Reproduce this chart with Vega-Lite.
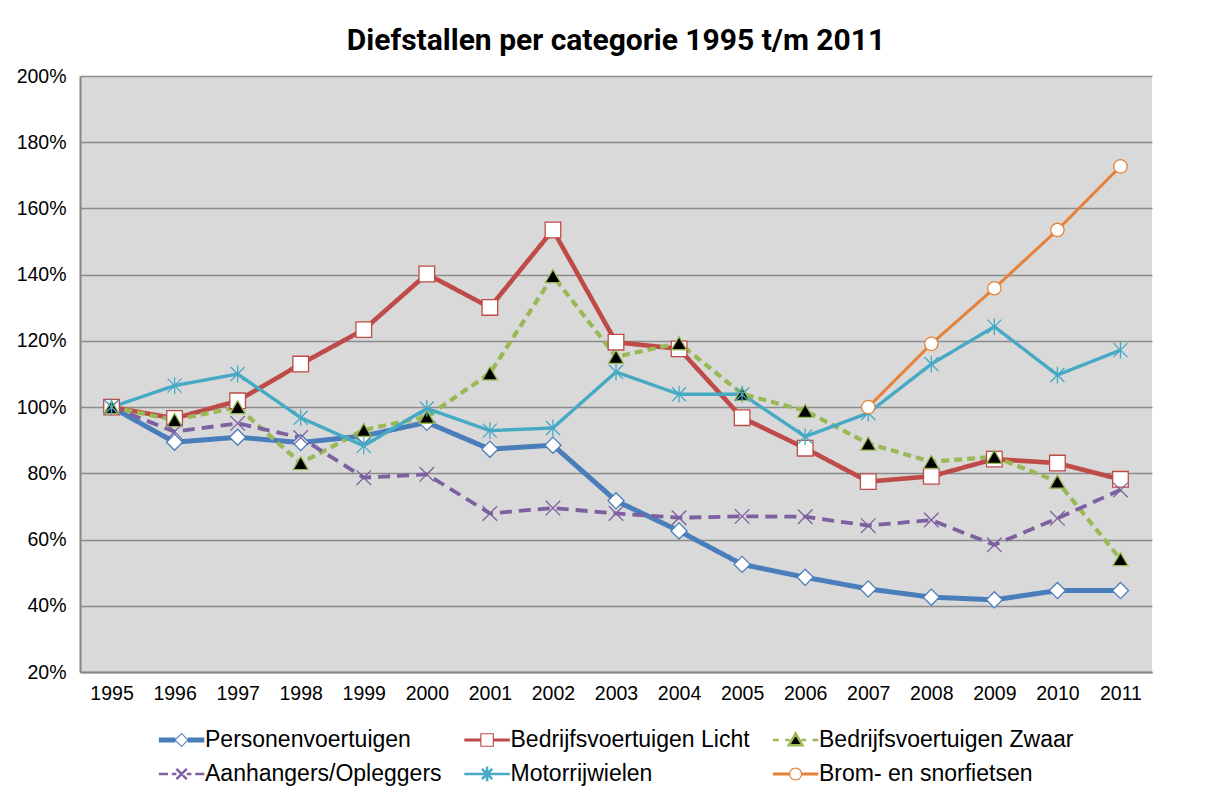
{
  "$schema": "https://vega.github.io/schema/vega-lite/v6.json",
  "width": 1072,
  "height": 596,
  "autosize": {"type": "none"},
  "padding": {"left": 80, "top": 76, "right": 53, "bottom": 119},
  "background": "white",
  "title": {
    "text": "Diefstallen per categorie 1995 t/m 2011",
    "anchor": "middle",
    "frame": "group",
    "baseline": "alphabetic",
    "offset": -14,
    "font": "Roboto",
    "fontSize": 30,
    "fontWeight": "bold",
    "color": "black"
  },
  "config": {
    "view": {"fill": "#D9D9D9", "stroke": null},
    "axis": {
      "labelFont": "Liberation Sans",
      "labelFontSize": 19.5,
      "labelColor": "black",
      "ticks": false,
      "domainColor": "#868686",
      "domainWidth": 2,
      "title": null
    },
    "legend": {
      "labelFont": "Liberation Sans",
      "labelFontSize": 23,
      "labelColor": "black",
      "labelLimit": 400
    }
  },
  "resolve": {"scale": {"strokeWidth": "independent"}},
  "data": {
    "values": [
      {"yr": 1995, "s": "Personenvoertuigen", "k": "P", "v": 100},
      {"yr": 1996, "s": "Personenvoertuigen", "k": "P", "v": 89.4},
      {"yr": 1997, "s": "Personenvoertuigen", "k": "P", "v": 90.9},
      {"yr": 1998, "s": "Personenvoertuigen", "k": "P", "v": 89.3},
      {"yr": 1999, "s": "Personenvoertuigen", "k": "P", "v": 91.3},
      {"yr": 2000, "s": "Personenvoertuigen", "k": "P", "v": 95.4},
      {"yr": 2001, "s": "Personenvoertuigen", "k": "P", "v": 87.3},
      {"yr": 2002, "s": "Personenvoertuigen", "k": "P", "v": 88.5},
      {"yr": 2003, "s": "Personenvoertuigen", "k": "P", "v": 71.7},
      {"yr": 2004, "s": "Personenvoertuigen", "k": "P", "v": 62.6},
      {"yr": 2005, "s": "Personenvoertuigen", "k": "P", "v": 52.5},
      {"yr": 2006, "s": "Personenvoertuigen", "k": "P", "v": 48.6},
      {"yr": 2007, "s": "Personenvoertuigen", "k": "P", "v": 45.1},
      {"yr": 2008, "s": "Personenvoertuigen", "k": "P", "v": 42.6},
      {"yr": 2009, "s": "Personenvoertuigen", "k": "P", "v": 41.8},
      {"yr": 2010, "s": "Personenvoertuigen", "k": "P", "v": 44.6},
      {"yr": 2011, "s": "Personenvoertuigen", "k": "P", "v": 44.6},
      {"yr": 1995, "s": "Bedrijfsvoertuigen Licht", "k": "L", "v": 100},
      {"yr": 1996, "s": "Bedrijfsvoertuigen Licht", "k": "L", "v": 96.6},
      {"yr": 1997, "s": "Bedrijfsvoertuigen Licht", "k": "L", "v": 101.9},
      {"yr": 1998, "s": "Bedrijfsvoertuigen Licht", "k": "L", "v": 113.0},
      {"yr": 1999, "s": "Bedrijfsvoertuigen Licht", "k": "L", "v": 123.4},
      {"yr": 2000, "s": "Bedrijfsvoertuigen Licht", "k": "L", "v": 140.2},
      {"yr": 2001, "s": "Bedrijfsvoertuigen Licht", "k": "L", "v": 130.1},
      {"yr": 2002, "s": "Bedrijfsvoertuigen Licht", "k": "L", "v": 153.5},
      {"yr": 2003, "s": "Bedrijfsvoertuigen Licht", "k": "L", "v": 119.6},
      {"yr": 2004, "s": "Bedrijfsvoertuigen Licht", "k": "L", "v": 117.6},
      {"yr": 2005, "s": "Bedrijfsvoertuigen Licht", "k": "L", "v": 96.8},
      {"yr": 2006, "s": "Bedrijfsvoertuigen Licht", "k": "L", "v": 87.6},
      {"yr": 2007, "s": "Bedrijfsvoertuigen Licht", "k": "L", "v": 77.5},
      {"yr": 2008, "s": "Bedrijfsvoertuigen Licht", "k": "L", "v": 79.1},
      {"yr": 2009, "s": "Bedrijfsvoertuigen Licht", "k": "L", "v": 84.3},
      {"yr": 2010, "s": "Bedrijfsvoertuigen Licht", "k": "L", "v": 83.1},
      {"yr": 2011, "s": "Bedrijfsvoertuigen Licht", "k": "L", "v": 78.2},
      {"yr": 1995, "s": "Bedrijfsvoertuigen Zwaar", "k": "Z", "v": 100},
      {"yr": 1996, "s": "Bedrijfsvoertuigen Zwaar", "k": "Z", "v": 96.1},
      {"yr": 1997, "s": "Bedrijfsvoertuigen Zwaar", "k": "Z", "v": 100},
      {"yr": 1998, "s": "Bedrijfsvoertuigen Zwaar", "k": "Z", "v": 83.1},
      {"yr": 1999, "s": "Bedrijfsvoertuigen Zwaar", "k": "Z", "v": 93.1},
      {"yr": 2000, "s": "Bedrijfsvoertuigen Zwaar", "k": "Z", "v": 97.1},
      {"yr": 2001, "s": "Bedrijfsvoertuigen Zwaar", "k": "Z", "v": 110.2},
      {"yr": 2002, "s": "Bedrijfsvoertuigen Zwaar", "k": "Z", "v": 139.6},
      {"yr": 2003, "s": "Bedrijfsvoertuigen Zwaar", "k": "Z", "v": 115.2},
      {"yr": 2004, "s": "Bedrijfsvoertuigen Zwaar", "k": "Z", "v": 119.3},
      {"yr": 2005, "s": "Bedrijfsvoertuigen Zwaar", "k": "Z", "v": 104.0},
      {"yr": 2006, "s": "Bedrijfsvoertuigen Zwaar", "k": "Z", "v": 98.9},
      {"yr": 2007, "s": "Bedrijfsvoertuigen Zwaar", "k": "Z", "v": 89.0},
      {"yr": 2008, "s": "Bedrijfsvoertuigen Zwaar", "k": "Z", "v": 83.5},
      {"yr": 2009, "s": "Bedrijfsvoertuigen Zwaar", "k": "Z", "v": 85.0},
      {"yr": 2010, "s": "Bedrijfsvoertuigen Zwaar", "k": "Z", "v": 77.5},
      {"yr": 2011, "s": "Bedrijfsvoertuigen Zwaar", "k": "Z", "v": 54.1},
      {"yr": 1995, "s": "Aanhangers/Opleggers", "k": "A", "v": 100},
      {"yr": 1996, "s": "Aanhangers/Opleggers", "k": "A", "v": 92.6},
      {"yr": 1997, "s": "Aanhangers/Opleggers", "k": "A", "v": 95.1},
      {"yr": 1998, "s": "Aanhangers/Opleggers", "k": "A", "v": 90.8},
      {"yr": 1999, "s": "Aanhangers/Opleggers", "k": "A", "v": 78.7},
      {"yr": 2000, "s": "Aanhangers/Opleggers", "k": "A", "v": 79.7},
      {"yr": 2001, "s": "Aanhangers/Opleggers", "k": "A", "v": 67.9},
      {"yr": 2002, "s": "Aanhangers/Opleggers", "k": "A", "v": 69.5},
      {"yr": 2003, "s": "Aanhangers/Opleggers", "k": "A", "v": 67.9},
      {"yr": 2004, "s": "Aanhangers/Opleggers", "k": "A", "v": 66.6},
      {"yr": 2005, "s": "Aanhangers/Opleggers", "k": "A", "v": 67.0},
      {"yr": 2006, "s": "Aanhangers/Opleggers", "k": "A", "v": 66.9},
      {"yr": 2007, "s": "Aanhangers/Opleggers", "k": "A", "v": 64.2},
      {"yr": 2008, "s": "Aanhangers/Opleggers", "k": "A", "v": 65.9},
      {"yr": 2009, "s": "Aanhangers/Opleggers", "k": "A", "v": 58.4},
      {"yr": 2010, "s": "Aanhangers/Opleggers", "k": "A", "v": 66.4},
      {"yr": 2011, "s": "Aanhangers/Opleggers", "k": "A", "v": 75.0},
      {"yr": 1995, "s": "Motorrijwielen", "k": "M", "v": 100},
      {"yr": 1996, "s": "Motorrijwielen", "k": "M", "v": 106.5},
      {"yr": 1997, "s": "Motorrijwielen", "k": "M", "v": 110.0},
      {"yr": 1998, "s": "Motorrijwielen", "k": "M", "v": 96.8},
      {"yr": 1999, "s": "Motorrijwielen", "k": "M", "v": 88.3},
      {"yr": 2000, "s": "Motorrijwielen", "k": "M", "v": 99.6},
      {"yr": 2001, "s": "Motorrijwielen", "k": "M", "v": 92.9},
      {"yr": 2002, "s": "Motorrijwielen", "k": "M", "v": 93.7},
      {"yr": 2003, "s": "Motorrijwielen", "k": "M", "v": 110.6},
      {"yr": 2004, "s": "Motorrijwielen", "k": "M", "v": 103.9},
      {"yr": 2005, "s": "Motorrijwielen", "k": "M", "v": 103.9},
      {"yr": 2006, "s": "Motorrijwielen", "k": "M", "v": 91.1},
      {"yr": 2007, "s": "Motorrijwielen", "k": "M", "v": 98.2},
      {"yr": 2008, "s": "Motorrijwielen", "k": "M", "v": 113.0},
      {"yr": 2009, "s": "Motorrijwielen", "k": "M", "v": 124.3},
      {"yr": 2010, "s": "Motorrijwielen", "k": "M", "v": 109.7},
      {"yr": 2011, "s": "Motorrijwielen", "k": "M", "v": 117.2},
      {"yr": 2007, "s": "Brom- en snorfietsen", "k": "B", "v": 100},
      {"yr": 2008, "s": "Brom- en snorfietsen", "k": "B", "v": 119.1},
      {"yr": 2009, "s": "Brom- en snorfietsen", "k": "B", "v": 135.9},
      {"yr": 2010, "s": "Brom- en snorfietsen", "k": "B", "v": 153.5},
      {"yr": 2011, "s": "Brom- en snorfietsen", "k": "B", "v": 172.7}
    ]
  },
  "encoding": {
    "x": {
      "field": "yr",
      "type": "ordinal",
      "axis": {"labelAngle": 0, "labelPadding": 12, "grid": false}
    },
    "y": {
      "field": "v",
      "type": "quantitative",
      "scale": {"domain": [20, 200], "nice": false, "zero": false},
      "axis": {
        "values": [20, 40, 60, 80, 100, 120, 140, 160, 180, 200],
        "labelExpr": "datum.value + '%'",
        "labelPadding": 14,
        "grid": true,
        "gridColor": "#8C8C8C",
        "gridWidth": 1.4
      }
    }
  },
  "layer": [
    {
      "mark": {"type": "line", "strokeJoin": "round"},
      "encoding": {
        "color": {
          "field": "s",
          "type": "nominal",
          "scale": {
            "domain": ["Personenvoertuigen", "Bedrijfsvoertuigen Licht", "Bedrijfsvoertuigen Zwaar", "Aanhangers/Opleggers", "Motorrijwielen", "Brom- en snorfietsen"],
            "range": ["#4A7EBB", "#BE4B48", "#98B954", "#7D60A0", "#46AAC5", "#E5823A"]
          },
          "legend": {
            "title": null,
            "orient": "none",
            "legendX": 125,
            "legendY": 664,
            "direction": "horizontal",
            "columns": 3,
            "symbolSize": 169,
            "symbolStrokeWidth": 2.5,
            "labelOffset": 6,
            "columnPadding": 16.5,
            "rowPadding": 9,
            "symbolLimit": 0,
            "encode": {
              "symbols": {
                "update": {
                  "shape": {"signal": "['M-7.1,-0.38L-4.55,-0.38L-4.55,0.38L-7.1,0.38Z M-2.65,-0.38L-0.1,-0.38L-0.1,0.38L-2.65,0.38Z M-3.6,-1.1L-2.5,0L-3.6,1.1L-4.7,0Z M-3.6,-0.88L-4.48,0L-3.6,0.88L-2.72,0Z', 'M-7.1,-0.23L-4.6,-0.23L-4.6,0.23L-7.1,0.23Z M-2.6,-0.23L-0.1,-0.23L-0.1,0.23L-2.6,0.23Z M-4.65,-1.05L-2.55,-1.05L-2.55,1.05L-4.65,1.05Z M-4.47,-0.87L-4.47,0.87L-2.73,0.87L-2.73,-0.87Z', 'M-7.1,0L-6.2,0M-5.2,0L-4.5,0M-2.7,0L-2,0M-1,0L-0.1,0M-3.6,-1L-2.55,0.8L-4.65,0.8Z', 'M-7.1,0L-5.7,0M-5.1,0L-4.4,0M-4.4,-0.8L-2.8,0.8M-4.4,0.8L-2.8,-0.8M-2.8,0L-2.1,0M-1.5,0L-0.1,0', 'M-7.1,0L-0.1,0M-4.4,-0.8L-2.8,0.8M-4.4,0.8L-2.8,-0.8M-3.6,-1.1L-3.6,1.1', 'M-7.1,-0.23L-4.55,-0.23L-4.55,0.23L-7.1,0.23Z M-2.65,-0.23L-0.1,-0.23L-0.1,0.23L-2.65,0.23Z M-4.6,0A1,1 0 1,1 -2.6,0A1,1 0 1,1 -4.6,0Z M-4.42,0A0.82,0.82 0 1,0 -2.78,0A0.82,0.82 0 1,0 -4.42,0Z'][indexof(['Personenvoertuigen','Bedrijfsvoertuigen Licht','Bedrijfsvoertuigen Zwaar','Aanhangers/Opleggers','Motorrijwielen','Brom- en snorfietsen'], datum.value)]"},
                  "fill": {"signal": "['#4A7EBB','#BE4B48','black','transparent','transparent','#E5823A'][indexof(['Personenvoertuigen','Bedrijfsvoertuigen Licht','Bedrijfsvoertuigen Zwaar','Aanhangers/Opleggers','Motorrijwielen','Brom- en snorfietsen'], datum.value)]"},
                  "stroke": {"signal": "['transparent','transparent','#98B954','#7D60A0','#46AAC5','transparent'][indexof(['Personenvoertuigen','Bedrijfsvoertuigen Licht','Bedrijfsvoertuigen Zwaar','Aanhangers/Opleggers','Motorrijwielen','Brom- en snorfietsen'], datum.value)]"},
                  "strokeWidth": {"signal": "[0,0,2.5,2.5,2.5,0][indexof(['Personenvoertuigen','Bedrijfsvoertuigen Licht','Bedrijfsvoertuigen Zwaar','Aanhangers/Opleggers','Motorrijwielen','Brom- en snorfietsen'], datum.value)]"},
                  "opacity": {"value": 1},
                  "fillOpacity": {"value": 1},
                  "strokeOpacity": {"value": 1}
                }
              }
            }
          }
        },
        "strokeDash": {
          "field": "k",
          "type": "nominal",
          "scale": {
            "domain": ["P", "L", "Z", "A", "M", "B"],
            "range": [[1, 0], [1, 0], [8, 5], [12, 7], [1, 0], [1, 0]]
          },
          "legend": null
        },
        "strokeWidth": {
          "field": "k",
          "type": "nominal",
          "scale": {
            "domain": ["P", "L", "Z", "A", "M", "B"],
            "range": [5, 3, 3, 3, 3, 3]
          },
          "legend": null
        }
      }
    },
    {
      "mark": {"type": "point", "opacity": 1},
      "encoding": {
        "shape": {
          "field": "k",
          "type": "nominal",
          "scale": {
            "domain": ["P", "L", "Z", "A", "M", "B"],
            "range": ["diamond", "square", "triangle-up", "M-1,-1L1,1M-1,1L1,-1", "M-1,-1L1,1M-1,1L1,-1M0,-1.2L0,1.2", "circle"]
          },
          "legend": null
        },
        "fill": {
          "field": "k",
          "type": "nominal",
          "scale": {
            "domain": ["P", "L", "Z", "A", "M", "B"],
            "range": ["white", "white", "black", "transparent", "transparent", "white"]
          },
          "legend": null
        },
        "stroke": {
          "field": "k",
          "type": "nominal",
          "scale": {
            "domain": ["P", "L", "Z", "A", "M", "B"],
            "range": ["#4A7EBB", "#BE4B48", "#98B954", "#7D60A0", "#46AAC5", "#E5823A"]
          },
          "legend": null
        },
        "size": {
          "field": "k",
          "type": "nominal",
          "scale": {
            "domain": ["P", "L", "Z", "A", "M", "B"],
            "range": [260, 180, 170, 150, 170, 180]
          },
          "legend": null
        },
        "strokeWidth": {
          "field": "k",
          "type": "nominal",
          "scale": {
            "domain": ["P", "L", "Z", "A", "M", "B"],
            "range": [1.3, 1.3, 1, 1.6, 1.6, 1.3]
          },
          "legend": null
        }
      }
    }
  ]
}
